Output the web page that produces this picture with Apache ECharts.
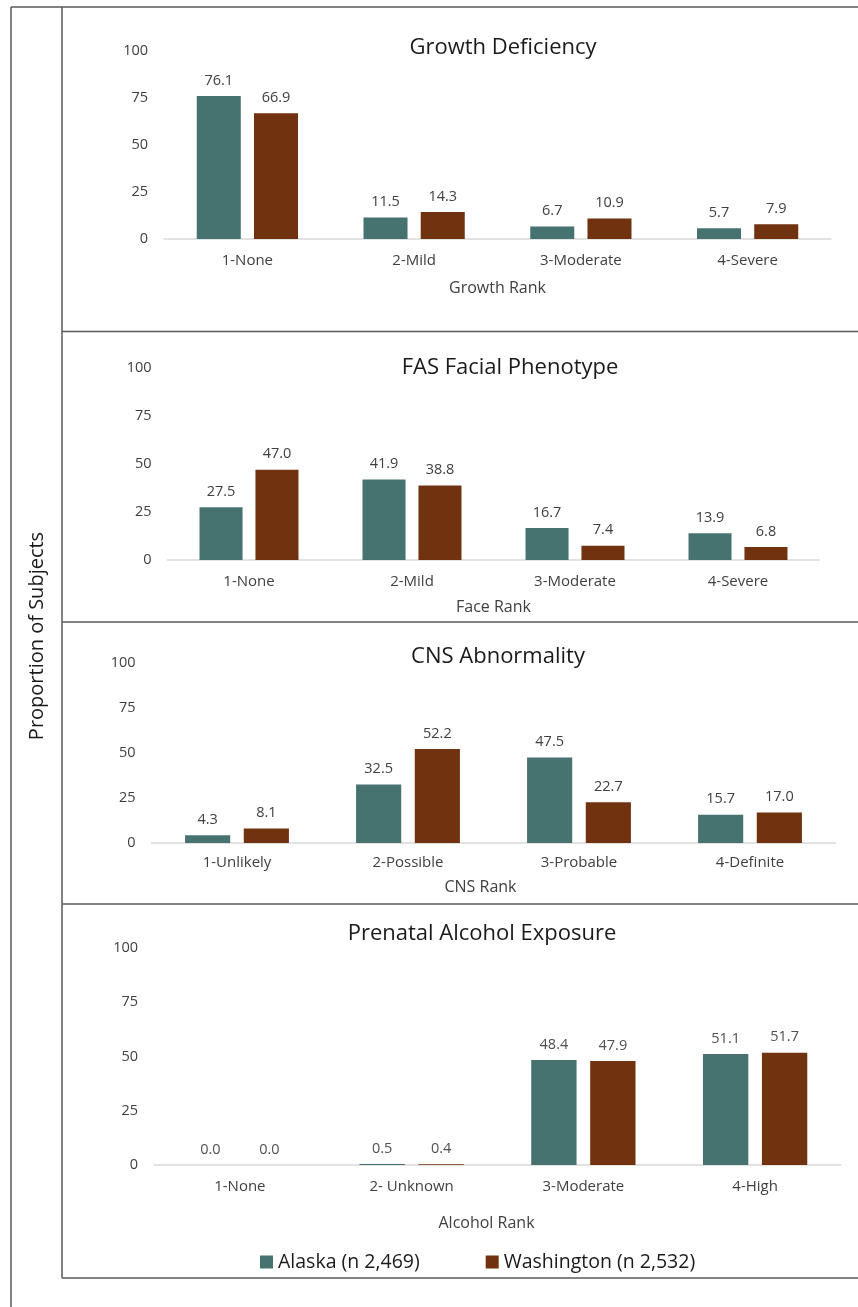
<!DOCTYPE html>
<html>
<head>
<meta charset="utf-8">
<script src="https://cdn.jsdelivr.net/npm/echarts@6/dist/echarts.min.js"></script>
<style>
  html, body { margin: 0; padding: 0; background: #ffffff; }
  #chart { width: 858px; height: 1307px; }
</style>
</head>
<body>
<div id="chart"></div>
<script>
// Category labels per panel
const growthRanks = ['1-None', '2-Mild', '3-Moderate', '4-Severe'];
const faceRanks = ['1-None', '2-Mild', '3-Moderate', '4-Severe'];
const cnsRanks = ['1-Unlikely', '2-Possible', '3-Probable', '4-Definite'];
const alcoholRanks = ['1-None', '2- Unknown', '3-Moderate', '4-High'];

// Proportion of subjects (%) by state
const growthAlaska = [76.1, 11.5, 6.7, 5.7];
const growthWashington = [66.9, 14.3, 10.9, 7.9];
const faceAlaska = [27.5, 41.9, 16.7, 13.9];
const faceWashington = [47.0, 38.8, 7.4, 6.8];
const cnsAlaska = [4.3, 32.5, 47.5, 15.7];
const cnsWashington = [8.1, 52.2, 22.7, 17.0];
const alcoholAlaska = [0.0, 0.5, 48.4, 51.1];
const alcoholWashington = [0.0, 0.4, 47.9, 51.7];

const panelTitles = ['Growth Deficiency', 'FAS Facial Phenotype', 'CNS Abnormality', 'Prenatal Alcohol Exposure'];
const axisNames = ['Growth Rank', 'Face Rank', 'CNS Rank', 'Alcohol Rank'];
const seriesNames = ['Alaska (n 2,469)', 'Washington (n 2,532)'];
const yTicks = { min: 0, max: 100, interval: 25 };

const FONT = '"Open Sans", "Noto Sans", sans-serif';
const TEAL = '#467370';
const BROWN = '#713210';
const LABEL = '#404040';

const panels = [
  { cats: growthRanks, a: growthAlaska, w: growthWashington,
    grid: { left: 164, top: 51, width: 667, height: 188 },
    title: { x: 503, y: 46 }, labelMargin: 14, nameGap: 41, namePad: 0 },
  { cats: faceRanks, a: faceAlaska, w: faceWashington,
    grid: { left: 167.5, top: 368, width: 652, height: 192 },
    title: { x: 510, y: 366 }, labelMargin: 14, nameGap: 39, namePad: 0 },
  { cats: cnsRanks, a: cnsAlaska, w: cnsWashington,
    grid: { left: 151.5, top: 663, width: 684, height: 180 },
    title: { x: 498, y: 655 }, labelMargin: 12, nameGap: 36, namePad: 26 },
  { cats: alcoholRanks, a: alcoholAlaska, w: alcoholWashington,
    grid: { left: 154, top: 948, width: 687, height: 217 },
    title: { x: 482, y: 932 }, labelMargin: 14, nameGap: 50, namePad: 22 }
];

const grids = [], xAxes = [], yAxes = [], series = [], titles = [];

panels.forEach((p, i) => {
  grids.push(Object.assign({ containLabel: false }, p.grid));
  titles.push({
    text: panelTitles[i],
    left: p.title.x,
    top: p.title.y - 9,
    textAlign: 'center',
    padding: 0,
    textStyle: { fontFamily: FONT, fontSize: 22, fontWeight: 'normal', color: '#1a1a1a' }
  });
  xAxes.push({
    type: 'category',
    gridIndex: i,
    data: p.cats,
    axisLine: { show: true, lineStyle: { color: '#d9d9d9', width: 1.5 } },
    axisTick: { show: false },
    axisLabel: { fontFamily: FONT, fontSize: 15, color: LABEL, margin: p.labelMargin, interval: 0 },
    name: axisNames[i],
    nameLocation: 'middle',
    nameGap: p.nameGap,
    nameTextStyle: { fontFamily: FONT, fontSize: 16, color: LABEL, padding: [0, p.namePad, 0, 0] }
  });
  yAxes.push({
    type: 'value',
    gridIndex: i,
    min: yTicks.min,
    max: yTicks.max,
    interval: yTicks.interval,
    axisLine: { show: false },
    axisTick: { show: false },
    splitLine: { show: false },
    axisLabel: { fontFamily: FONT, fontSize: 14.5, color: LABEL, margin: 16 }
  });
  const labelOpt = {
    show: true,
    position: 'top',
    distance: 8,
    fontFamily: FONT,
    fontSize: 14.5,
    color: i === 3 ? '#505050' : LABEL,
    formatter: (d) => Number(d.value).toFixed(1)
  };
  series.push({
    name: seriesNames[0], type: 'bar', xAxisIndex: i, yAxisIndex: i,
    data: p.a, barWidth: '26.4%', barGap: '30%',
    itemStyle: { color: TEAL }, label: labelOpt, emphasis: { disabled: true }
  });
  series.push({
    name: seriesNames[1], type: 'bar', xAxisIndex: i, yAxisIndex: i,
    data: p.w, barWidth: '26.4%', barGap: '30%',
    itemStyle: { color: BROWN }, label: labelOpt, emphasis: { disabled: true }
  });
});

// Frame lines around and between the panels
const FRAME = { stroke: '#5a5a5a', lineWidth: 1.5 };
const frameLines = [
  [11, 7, 11, 1307],
  [11, 7, 858, 7],
  [62, 7, 62, 1278],
  [62, 331.5, 858, 331.5],
  [62, 622, 858, 622],
  [62, 904, 858, 904],
  [62, 1278, 858, 1278]
].map(([x1, y1, x2, y2]) => ({
  type: 'line', silent: true,
  shape: { x1, y1, x2, y2 },
  style: FRAME
}));

const chart = echarts.init(document.getElementById('chart'), null, { renderer: 'canvas' });
chart.setOption({
  animation: false,
  backgroundColor: '#ffffff',
  title: titles,
  grid: grids,
  xAxis: xAxes,
  yAxis: yAxes,
  series: series,
  legend: {
    data: seriesNames,
    left: 260,
    top: 1252,
    padding: 0,
    icon: 'rect',
    itemWidth: 13,
    itemHeight: 13,
    itemGap: 66,
    textStyle: { fontFamily: FONT, fontSize: 19.5, color: '#1a1a1a', padding: [0, 0, 0, 0] }
  },
  graphic: frameLines.concat([{
    type: 'text',
    silent: true,
    x: 37,
    y: 636,
    rotation: Math.PI / 2,
    style: {
      text: 'Proportion of Subjects',
      fontFamily: FONT,
      fontSize: 20,
      fill: '#1a1a1a',
      align: 'center',
      verticalAlign: 'middle'
    }
  }])
});
</script>
</body>
</html>
